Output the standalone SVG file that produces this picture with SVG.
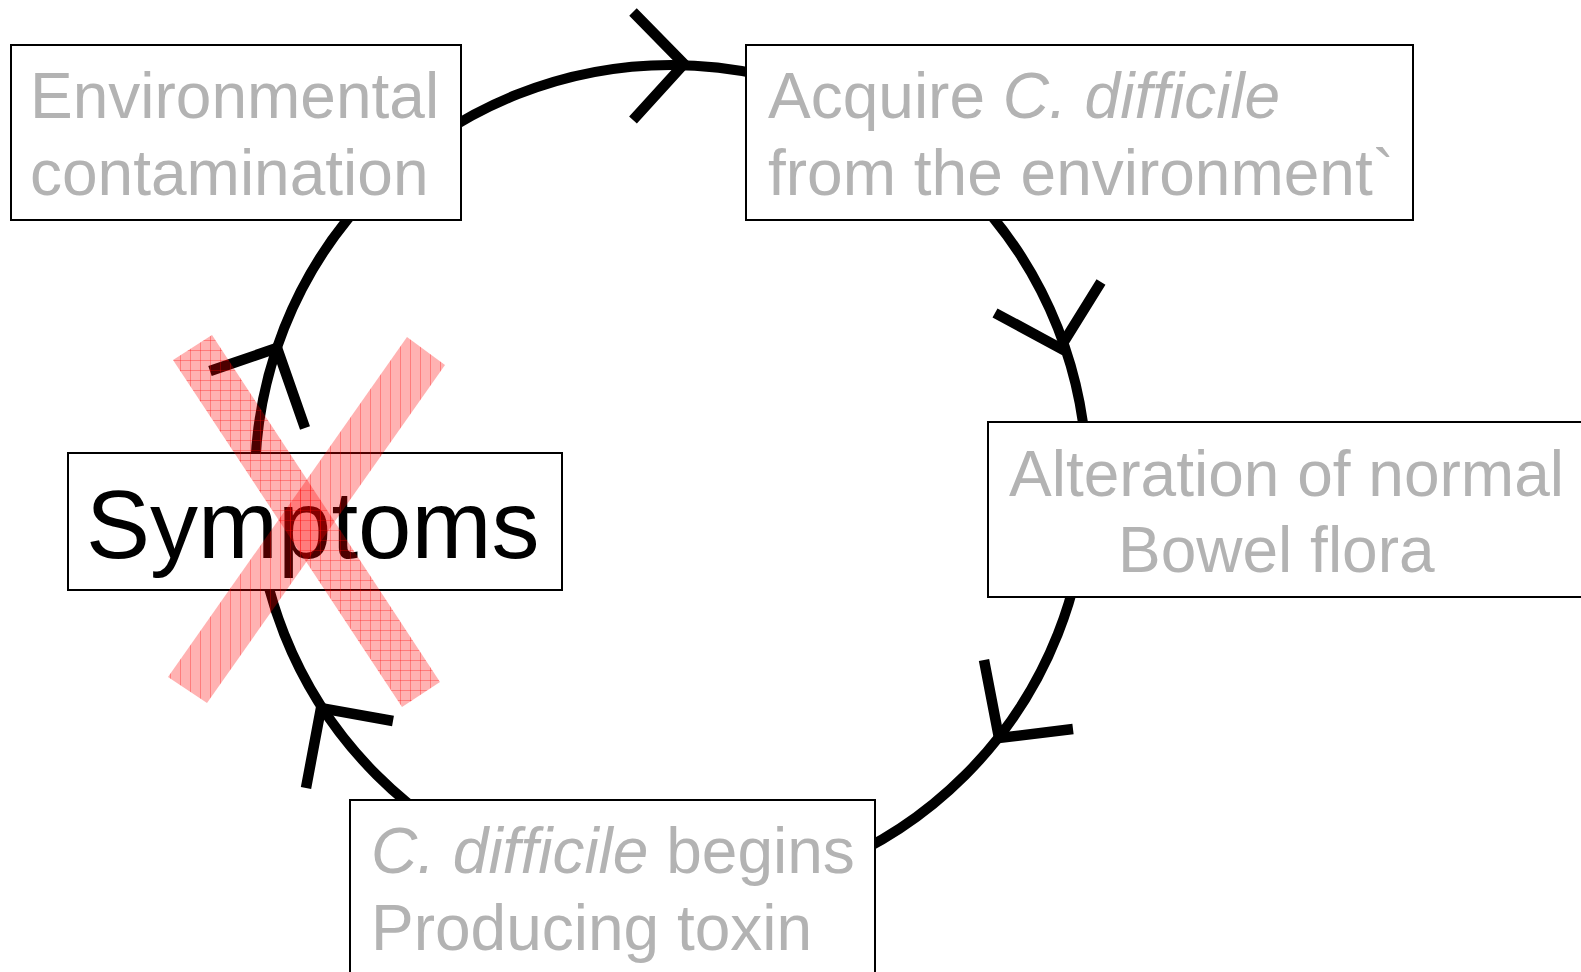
<svg xmlns="http://www.w3.org/2000/svg" width="1581" height="972" viewBox="0 0 1581 972">
  <style>
    .box { fill: #ffffff; stroke: #000000; stroke-width: 2; }
    .label { font-family: "Liberation Sans", Arial, sans-serif; font-size: 64px; fill: #b3b3b3; }
    .main { font-family: "Liberation Sans", Arial, sans-serif; font-size: 96px; fill: #000000; }
    .it { font-style: italic; }
    .cycle { fill: none; stroke: #000000; stroke-width: 10; }
    .head { fill: none; stroke: #000000; stroke-width: 10.5; stroke-linejoin: miter; stroke-linecap: butt; }
  </style>
  <defs>
    <!-- translucent red with a fine grid -->
    <pattern id="redGrid" patternUnits="userSpaceOnUse" width="10" height="10">
      <rect width="10" height="10" fill="#ff0000" fill-opacity="0.3"/>
      <path d="M0.5 0V10M0 0.5H10" stroke="#ff0000" stroke-opacity="0.3" stroke-width="1"/>
    </pattern>
    <!-- translucent red with vertical lines -->
    <pattern id="redLines" patternUnits="userSpaceOnUse" width="10" height="10">
      <rect width="10" height="10" fill="#ff0000" fill-opacity="0.3"/>
      <path d="M0.5 0V10" stroke="#ff0000" stroke-opacity="0.3" stroke-width="1"/>
    </pattern>
  </defs>

  <rect width="1581" height="972" fill="#ffffff"/>

  <!-- cycle ring and its arrowheads -->
  <g id="connectors">
    <circle class="cycle" cx="671" cy="481" r="416"/>
    <polyline class="head" points="633,12 684,64 633,120"/>
    <polyline class="head" points="995,313 1060,348 1101,282"/>
    <polyline class="head" points="984,660 999,738 1073,729"/>
    <polyline class="head" points="393,721 321,708 306,788"/>
    <polyline class="head" points="210,371 277,348 305,428"/>
  </g>

  <g id="node-environment">
    <rect class="box" x="11" y="45" width="450" height="175"/>
    <text class="label" x="30" y="118">Environmental</text>
    <text class="label" x="30" y="195">contamination</text>
  </g>

  <g id="node-acquire">
    <rect class="box" x="746" y="45" width="667" height="175"/>
    <text class="label" x="768" y="118">Acquire <tspan class="it">C. difficile</tspan></text>
    <text class="label" x="768" y="195">from the environment`</text>
  </g>

  <g id="node-alteration">
    <rect class="box" x="988" y="422" width="640" height="175"/>
    <text class="label" x="1009" y="496">Alteration of normal</text>
    <text class="label" x="1118" y="572">Bowel flora</text>
  </g>

  <g id="node-toxin">
    <rect class="box" x="350" y="800" width="525" height="200"/>
    <text class="label" x="371" y="873"><tspan class="it">C. difficile</tspan> begins</text>
    <text class="label" x="371" y="950">Producing toxin</text>
  </g>

  <g id="node-symptoms">
    <rect class="box" x="68" y="453" width="494" height="137"/>
    <text class="main" x="86" y="558">Symptoms</text>
  </g>

  <!-- red cross over the symptoms step -->
  <g id="cross">
    <polygon points="173,360 212,335 440,682 402,707" fill="url(#redGrid)"/>
    <polygon points="407,337 445,365 207,703 168,677" fill="url(#redLines)"/>
  </g>
</svg>
